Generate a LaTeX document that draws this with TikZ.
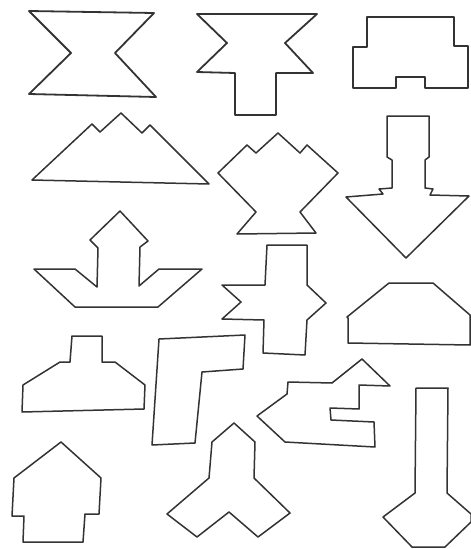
\documentclass[tikz,border=0pt]{standalone}
\begin{document}
\begin{tikzpicture}[x=1pt,y=-1pt,piece/.style={line width=1.5pt,black!80,line join=round}]
\useasboundingbox (0,0) rectangle (471,549);
\clip (0,0) rectangle (471,549);
% row 1
\draw[piece,line width=1.8pt](29,11)--(154,13)--(115,53)--(156,97)--(29,94)--(71,53)--cycle;
\draw[piece,line width=1.8pt](197,14)--(317,14)--(285,43)--(313,73)--(276,73)--(276,115)--(235,115)--(235,73)--(197,72)--(227,43)--cycle;
\draw[piece,line width=1.8pt](367,17)--(454,17)--(454,46)--(468,46)--(468,88)--(425,88)--(425,77)--(396,77)--(396,88)--(353,88)--(353,47)--(367,47)--cycle;
% row 2
\draw[piece](32,180)--(92,124)--(100,132)--(121,113)--(142,133)--(150,125)--(209,184)--cycle;
\draw[piece](218,173)--(247,145)--(256,153)--(278,133)--(300,153)--(307,145)--(338,173)--(300,212)--(316,233)--(237,234)--(256,212)--cycle;
\draw[piece](387,116)--(429,116)--(429,157)--(425,160)--(425,188)--(433,189)--(430,195)--(469,196)--(406,258)--(346,197)--(383,194)--(379,189)--(392,188)--(392,160)--(387,157)--cycle;
% row 3
\draw[piece](120,211)--(148,241)--(140,247)--(139,286)--(159,269)--(202,269)--(158,307)--(75,307)--(34,269)--(75,269)--(97,287)--(98,248)--(90,240)--cycle;
\draw[piece](267,245)--(307,245)--(307,285)--(326,303)--(307,320)--(305,355)--(263,353)--(264,320)--(222,319)--(241,302)--(222,285)--(265,285)--cycle;
\draw[piece](347,317)--(389,283)--(433,283)--(470,315)--(470,345)--(348,343)--(348,318)--cycle;
% row 4
\draw[piece](72,336)--(102,336)--(102,362)--(115,362)--(145,385)--(144,409)--(22,412)--(23,385)--(60,362)--(70,362)--cycle;
\draw[piece](159,339)--(245,335)--(243,369)--(202,372)--(195,443)--(152,445)--cycle;
\draw[piece](257,416)--(287,394)--(288,382)--(332,383)--(362,359)--(390,386)--(359,385)--(359,409)--(330,408)--(331,420)--(374,422)--(375,447)--(285,442)--cycle;
\draw[piece](416,388)--(448,388)--(447,493)--(471,514)--(471,522)--(445,547)--(412,547)--(383,517)--(415,493)--cycle;
% row 5
\draw[piece](61,442)--(101,478)--(99,514)--(85,514)--(83,542)--(23,542)--(24,516)--(12,516)--(14,478)--cycle;
\draw[piece](234,423)--(255,442)--(254,478)--(290,513)--(258,537)--(229,512)--(197,537)--(167,514)--(209,478)--(212,442)--cycle;
\end{tikzpicture}
\end{document}
